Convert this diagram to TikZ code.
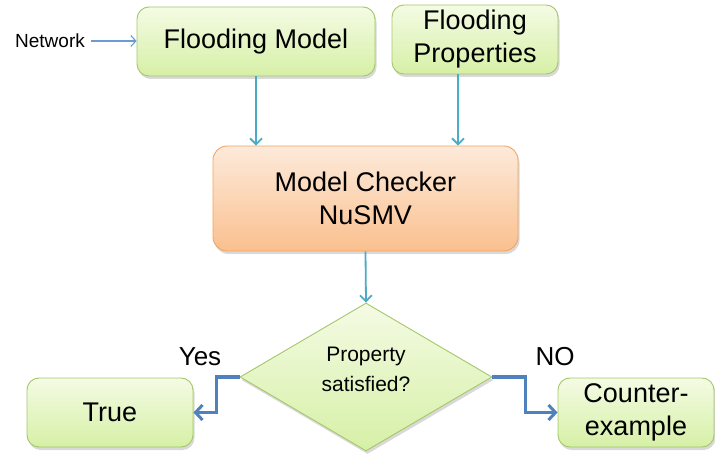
\documentclass[tikz,border=0pt]{standalone}
\usepackage{fontspec}
\setmainfont{Liberation Sans}
\usetikzlibrary{shapes.geometric,arrows.meta,shadows}
\definecolor{gtop}{HTML}{F4FBE4}
\definecolor{gbot}{HTML}{D6F0A6}
\definecolor{gline}{HTML}{A5C76A}
\definecolor{otop}{HTML}{FDEADB}
\definecolor{obot}{HTML}{FAC08F}
\definecolor{oline}{HTML}{F7A35C}
\definecolor{teal}{HTML}{4BACC6}
\definecolor{netblue}{HTML}{6C9BD2}
\definecolor{thickblue}{HTML}{4F81BD}
\tikzset{
  shad/.style={drop shadow={shadow xshift=1.5pt,shadow yshift=-3pt,opacity=0.25,fill=black!60}},
  gbox/.style={shad,draw=gline,line width=0.9pt,rounded corners=12pt,top color=gtop,bottom color=gbot,
    align=center,inner sep=0pt,font=\fontsize{27}{33}\selectfont},
  obox/.style={shad,draw=oline,line width=0.9pt,rounded corners=14pt,top color=otop,bottom color=obot,
    align=center,inner sep=0pt,font=\fontsize{27}{33}\selectfont},
  dbox/.style={shad,diamond,draw=gline,line width=0.9pt,top color=gtop,bottom color=gbot,
    align=center,inner sep=0pt,font=\fontsize{21}{30}\selectfont},
  thin arrow/.style={draw=teal,line width=1.8pt,-{Straight Barb[length=6pt,width=12pt]}},
  net arrow/.style={draw=netblue,line width=1.1pt,-{Straight Barb[length=5pt,width=11pt]}},
  thick arrow/.style={draw=thickblue,line width=3.2pt,-{Straight Barb[length=7pt,width=15pt,line width=3pt]}},
  lbl/.style={inner sep=0pt,font=\fontsize{26}{30}\selectfont}
}
\begin{document}
\begin{tikzpicture}[x=1pt,y=-1pt]
\useasboundingbox (0,0) rectangle (715,454);
\node[gbox,minimum width=238pt,minimum height=69pt] (fm) at (256,41.5) {Flooding Model};
\node[gbox,minimum width=166pt,minimum height=69pt] (fp) at (475,39.5) {Flooding\\Properties};
\node[inner sep=0pt,font=\fontsize{19}{22}\selectfont] (net) at (50,41) {Network};
\node[obox,minimum width=305pt,minimum height=105pt] (mc) at (365.5,198.5) {Model Checker\\NuSMV};
\node[dbox,minimum width=252pt,minimum height=148pt] (dec) at (366,377) {};
\node[inner sep=0pt,align=center,font=\fontsize{21}{30}\selectfont] (dect) at (366,369) {Property\\satisfied?};
\node[gbox,minimum width=166pt,minimum height=69pt] (tr) at (110,412.5) {True};
\node[gbox,minimum width=156pt,minimum height=69pt] (ce) at (636,412.5) {Counter-\\example};
\node[lbl] (yes) at (200,357) {Yes};
\node[lbl] (no) at (555,357) {NO};
\draw[net arrow] ([xshift=6pt]net.east) -- (fm.west |- net.east);
\draw[thin arrow] (fm.south) -- (fm.south |- mc.north);
\draw[thin arrow] ([xshift=-17pt]fp.south) -- ([xshift=-17pt]fp.south |- mc.north);
\draw[thin arrow] (mc.south) -- (dec.north);
\draw[thick arrow] (dec.west) -- ++(-23,0) |- (tr.east);
\draw[thick arrow] (dec.east) -- ++(33,0) |- (ce.west);
\end{tikzpicture}
\end{document}
